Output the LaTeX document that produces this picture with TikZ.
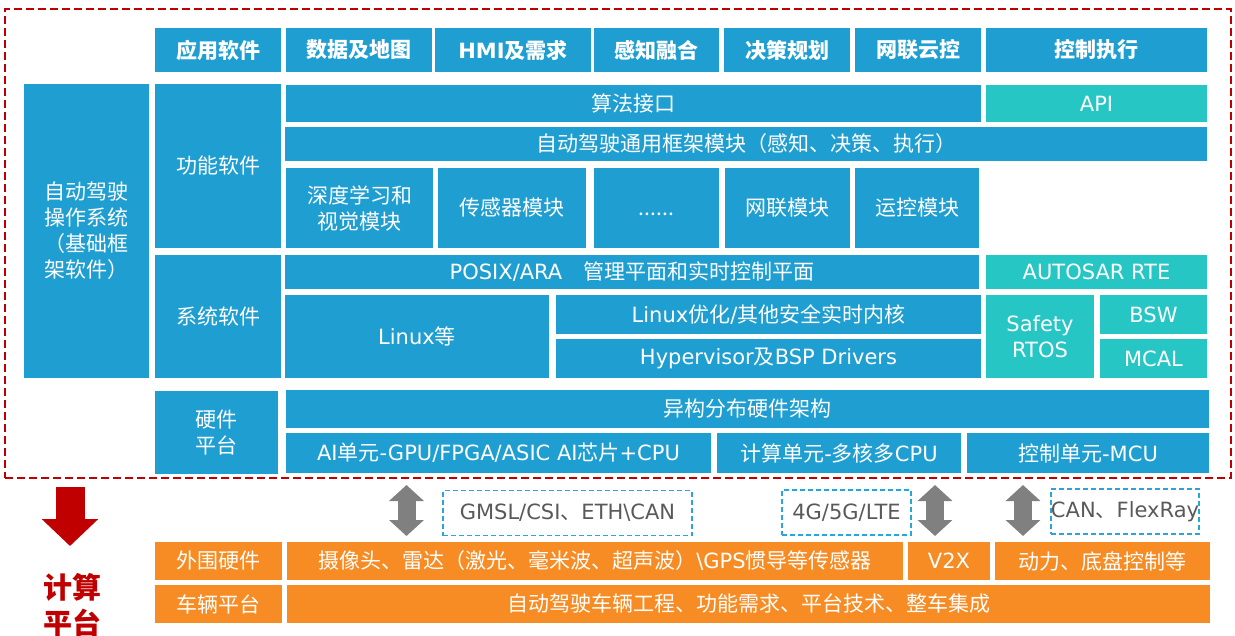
\documentclass[tikz,border=0pt]{standalone}
\usepackage{fontspec}
\setmainfont{Noto Sans CJK SC}
\newfontfamily\en{DejaVu Sans}
\usetikzlibrary{arrows.meta}

\definecolor{osblue}{HTML}{1F9ED2}
\definecolor{osteal}{HTML}{26C6C5}
\definecolor{vehorange}{HTML}{F68C23}
\definecolor{framered}{HTML}{C00000}
\definecolor{linkgray}{HTML}{808080}
\definecolor{busblue}{HTML}{2AA5DA}
\definecolor{labelgray}{HTML}{595959}

\begin{document}
\begin{tikzpicture}[x=1pt, y=-1pt]

% Styles
\tikzset{
    box/.style={rectangle, inner sep=0pt, align=center, text=white, font=\fontsize{21}{26}\selectfont},
    sw/.style={box, fill=osblue},
    hd/.style={sw, minimum height=44pt, font=\fontsize{21}{26}\selectfont\bfseries},
    rt/.style={box, fill=osteal},
    veh/.style={box, fill=vehorange, minimum height=38pt},
    bus/.style={rectangle, draw=busblue, dash pattern=on 5pt off 3pt, line width=1.5pt, inner sep=0pt, minimum height=45pt, text=labelgray, font=\fontsize{21}{26}\selectfont},
    link/.style={linkgray, line width=18pt, {Triangle[width=34pt,length=16pt]}-{Triangle[width=34pt,length=16pt]}}
}

\useasboundingbox (0,0) rectangle (1235,636);

% Frame of the OS
\node[draw=framered, line width=2.5pt, dash pattern=on 8pt off 4pt, inner sep=0pt, minimum width=1226pt, minimum height=469pt] (frame) at (618,243.5) {};

% Header row
\node[hd, minimum width=126pt] (app) at (218,50) {应用软件};
\node[hd, minimum width=146pt] (data) at (359,50) {数据及地图};
\node[hd, minimum width=156pt] (hmi) at (513,50) {{\en HMI}及需求};
\node[hd, minimum width=125pt] (fuse) at (656.5,50) {感知融合};
\node[hd, minimum width=126pt] (plan) at (787,50) {决策规划};
\node[hd, minimum width=126pt] (cloud) at (918,50) {网联云控};
\node[hd, minimum width=221pt] (exec) at (1096.5,50) {控制执行};

% Left column
\node[sw, minimum width=125pt, minimum height=294pt] (os) at (86.5,231) {自动驾驶\\操作系统\\（基础框\\架软件）};

% Function software
\node[sw, minimum width=126pt, minimum height=164pt] (func) at (218,166) {功能软件};
\node[sw, minimum width=695pt, minimum height=37pt] (algo) at (633.5,103.5) {算法接口};
\node[rt, minimum width=221pt, minimum height=37pt] (api) at (1096.5,103.5) {{\en API}};
\node[sw, minimum width=922pt, minimum height=34pt] (frmw) at (746,144) {自动驾驶通用框架模块（感知、决策、执行）};
\node[sw, minimum width=147pt, minimum height=80pt] (dl) at (359.5,208) {深度学习和\\视觉模块};
\node[sw, minimum width=148pt, minimum height=80pt] (sens) at (512,208) {传感器模块};
\node[sw, minimum width=125pt, minimum height=80pt] (dots) at (656.5,208) {\vphantom{模}......};
\node[sw, minimum width=125pt, minimum height=80pt] (netm) at (787.5,208) {网联模块};
\node[sw, minimum width=124pt, minimum height=80pt] (move) at (917,208) {运控模块};

% System software
\node[sw, minimum width=126pt, minimum height=123pt] (sys) at (218,316.5) {系统软件};
\node[sw, minimum width=694pt, minimum height=34pt] (posix) at (632,272) {{\en POSIX/ARA}\hspace{1em}管理平面和实时控制平面};
\node[rt, minimum width=221pt, minimum height=34pt] (rte) at (1096.5,272) {{\en AUTOSAR RTE}};
\node[sw, minimum width=264pt, minimum height=83pt] (linux) at (417,336.5) {{\en Linux}等};
\node[sw, minimum width=425pt, minimum height=39pt] (kern) at (768.5,314.5) {{\en Linux}优化{\en /}其他安全实时内核};
\node[sw, minimum width=425pt, minimum height=39pt] (hyp) at (768.5,358.5) {{\en Hypervisor}及{\en BSP Drivers}};
\node[rt, minimum width=108pt, minimum height=83pt] (rtos) at (1040,336.5) {\en Safety\\\en RTOS};
\node[rt, minimum width=107pt, minimum height=39pt] (bsw) at (1153.5,314.5) {{\en BSW}};
\node[rt, minimum width=107pt, minimum height=39pt] (mcal) at (1153.5,358.5) {{\en MCAL}};

% Hardware
\node[sw, minimum width=123pt, minimum height=83pt] (hw) at (216.5,432.5) {硬件\\平台};
\node[sw, minimum width=923pt, minimum height=38pt] (hetero) at (747.5,409) {异构分布硬件架构};
\node[sw, minimum width=425pt, minimum height=40pt] (aiu) at (498.5,453) {{\en AI}单元{\en -GPU/FPGA/ASIC AI}芯片{\en +CPU}};
\node[sw, minimum width=244pt, minimum height=40pt] (cpu) at (839,453) {计算单元{\en -}多核多{\en CPU}};
\node[sw, minimum width=242pt, minimum height=40pt] (mcu) at (1088,453) {控制单元{\en -MCU}};

% Computing platform
\coordinate (down1) at (70,487);
\coordinate (down2) at (70,546);
\draw[framered, line width=29pt, -{Triangle[width=55pt,length=27pt]}] (down1) -- (down2);
\node[text=framered, align=center, font=\fontsize{29}{36}\selectfont\bfseries] (calc) at (72,605) {计算\\平台};

% Buses
\node[bus, minimum width=249pt] (gmsl) at (567.5,513) {{\en GMSL/CSI}、{\en ETH\textbackslash CAN}};
\node[bus, minimum width=129pt] (lte) at (846.5,512.5) {{\en 4G/5G/LTE}};
\node[bus, minimum width=148pt] (can) at (1125,511.5) {{\en CAN}、{\en FlexRay}};

\foreach \i/\x in {1/406.5, 2/935, 3/1023} {
    \coordinate (up\i) at (\x,485);
    \coordinate (dn\i) at (\x,536);
    \draw[link] (up\i) -- (dn\i);
}

% Vehicle
\node[veh, minimum width=127pt] (periph) at (218.5,561) {外围硬件};
\node[veh, minimum width=127pt] (vplat) at (218.5,604) {车辆平台};
\node[veh, minimum width=616pt] (cam) at (595,561) {摄像头、雷达（激光、毫米波、超声波）{\en \textbackslash GPS}惯导等传感器};
\node[veh, minimum width=82pt] (v2x) at (949,561) {{\en V2X}};
\node[veh, minimum width=215pt] (chas) at (1102.5,561) {动力、底盘控制等};
\node[veh, minimum width=923pt] (veng) at (748.5,604) {自动驾驶车辆工程、功能需求、平台技术、整车集成};

\end{tikzpicture}
\end{document}
